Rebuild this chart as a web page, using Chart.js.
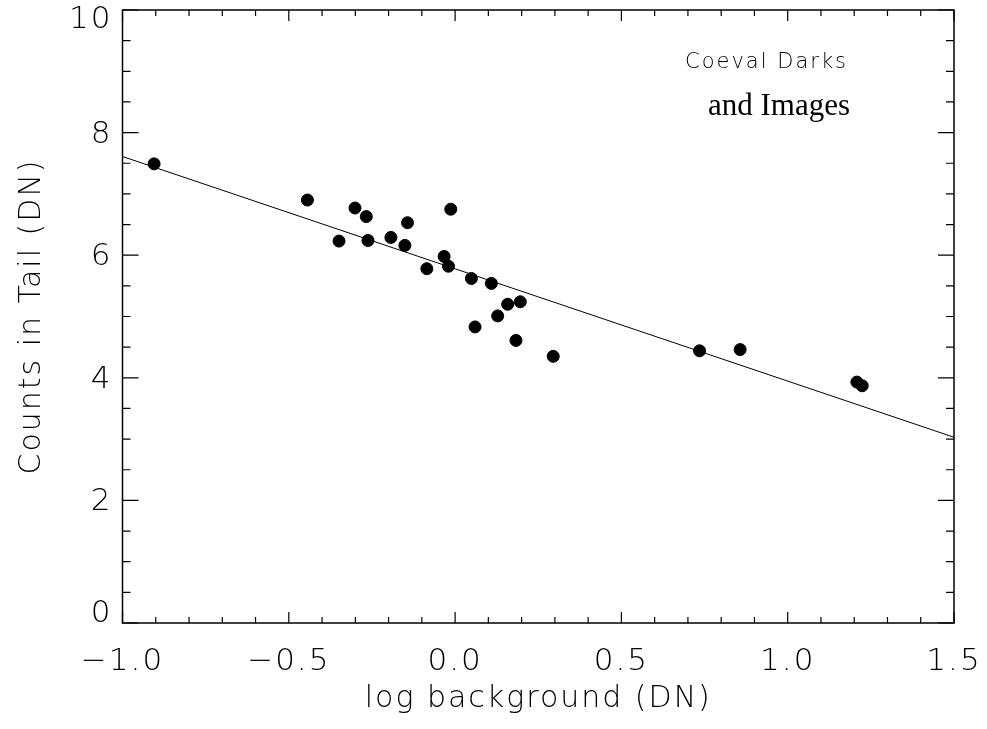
<!DOCTYPE html>
<html>
<head>
<meta charset="utf-8">
<script src="https://cdn.jsdelivr.net/npm/chart.js@4/dist/chart.umd.min.js"></script>
<style>
  html, body { margin: 0; padding: 0; background: #fff; }
  #wrap { width: 987px; height: 729px; }
</style>
</head>
<body>
<div id="wrap"><canvas id="tailchart"></canvas></div>
<script>
// log background (DN) vs counts in tail (DN)
const logBackground = [-0.905, -0.444, -0.301, -0.267, -0.143, -0.013, -0.349, -0.262, -0.193, -0.151,
                       -0.033, -0.020, -0.085, 0.049, 0.109, 0.196, 0.158, 0.128, 0.060, 0.183,
                       0.295, 0.735, 0.857, 1.208, 1.224];
const tailCounts = [7.49, 6.90, 6.77, 6.63, 6.53, 6.75, 6.23, 6.24, 6.29, 6.16,
                    5.98, 5.82, 5.78, 5.62, 5.54, 5.24, 5.20, 5.01, 4.83, 4.61,
                    4.35, 4.44, 4.46, 3.93, 3.87];
const fitX = [-1.0, 1.5];
const fitY = [7.61, 3.03];
const xTicks = [-1.0, -0.5, 0.0, 0.5, 1.0, 1.5];
const yTicks = [0, 2, 4, 6, 8, 10];
const labelTop = "Coeval Darks";
const labelBottom = "and Images";

const thinFont = "'DejaVu Sans', sans-serif";

// wide spacing to look more like the plotting font of the original
const spacingPlugin = {
  id: 'spacing',
  beforeDraw(chart) { chart.ctx.letterSpacing = '2px'; }
};

// inward ticks on all four sides, y labels, frame and the note text
const framePlugin = {
  id: 'frame',
  afterDraw(chart) {
    const ctx = chart.ctx;
    const a = chart.chartArea;
    const xs = chart.scales.x, ys = chart.scales.y;
    ctx.save();
    ctx.strokeStyle = '#000';
    ctx.lineWidth = 1.5;
    ctx.strokeRect(a.left, a.top, a.right - a.left, a.bottom - a.top);
    ctx.lineWidth = 1.2;
    ctx.beginPath();
    for (let i = -10; i <= 15; i++) {
      const px = xs.getPixelForValue(i / 10);
      const len = (i % 5 === 0) ? 11 : 6;
      ctx.moveTo(px, a.bottom); ctx.lineTo(px, a.bottom - len);
      ctx.moveTo(px, a.top); ctx.lineTo(px, a.top + len);
    }
    for (let j = 0; j <= 20; j++) {
      const py = ys.getPixelForValue(j / 2);
      const len = (j % 4 === 0) ? 16 : 8;
      ctx.moveTo(a.left, py); ctx.lineTo(a.left + len, py);
      ctx.moveTo(a.right, py); ctx.lineTo(a.right - len, py);
    }
    ctx.stroke();

    ctx.fillStyle = '#000';
    ctx.textBaseline = 'middle';
    ctx.textAlign = 'right';
    // y labels: end ones pushed inside the frame like the original
    ctx.letterSpacing = '2px';
    ctx.font = "200 31px " + thinFont;
    yTicks.forEach((v, k) => {
      let dy = 2;
      if (k === 0) dy = -9;
      if (k === yTicks.length - 1) dy = 10;
      ctx.fillText(String(v), a.left - 10, ys.getPixelForValue(v) + dy);
    });

    ctx.font = "200 21px " + thinFont;
    ctx.fillText(labelTop, 848, 63);
    ctx.letterSpacing = '0px';
    ctx.font = "31px 'Liberation Serif', 'Times New Roman', serif";
    ctx.fillText(labelBottom, 850, 107);
    ctx.restore();
  }
};

new Chart(document.getElementById('tailchart'), {
  type: 'scatter',
  data: {
    datasets: [
      {
        label: 'data',
        data: logBackground.map((x, i) => ({ x: x, y: tailCounts[i] })),
        backgroundColor: '#000',
        borderColor: '#000',
        pointRadius: 6,
        pointHoverRadius: 6,
        order: 1
      },
      {
        label: 'fit',
        type: 'line',
        data: fitX.map((x, i) => ({ x: x, y: fitY[i] })),
        borderColor: '#000',
        borderWidth: 1,
        pointRadius: 0,
        fill: false,
        order: 2
      }
    ]
  },
  options: {
    responsive: true,
    maintainAspectRatio: false,
    animation: false,
    layout: { padding: { top: 10, right: 33, left: 0, bottom: 0 } },
    plugins: { legend: { display: false }, tooltip: { enabled: false } },
    scales: {
      x: {
        type: 'linear',
        min: -1.0,
        max: 1.5,
        afterBuildTicks: s => { s.ticks = xTicks.map(v => ({ value: v })); },
        afterFit: s => { s.height = 106; s.paddingLeft = 0; s.paddingRight = 0; },
        grid: { display: false, drawTicks: false },
        border: { display: false },
        ticks: {
          padding: 20,
          color: '#000',
          maxRotation: 0,
          font: { family: thinFont, size: 31, weight: '200' },
          callback: v => v.toFixed(1).replace('-', '\u2212')
        },
        title: {
          display: true,
          text: 'log background (DN)',
          color: '#000',
          padding: { top: 0, bottom: 12 },
          font: { family: thinFont, size: 30, weight: '200' }
        }
      },
      y: {
        type: 'linear',
        min: 0,
        max: 10,
        afterBuildTicks: s => { s.ticks = yTicks.map(v => ({ value: v })); },
        afterFit: s => { s.width = 122.5; s.paddingTop = 0; s.paddingBottom = 0; },
        grid: { display: false, drawTicks: false },
        border: { display: false },
        ticks: { display: false },
        title: {
          display: true,
          text: 'Counts in Tail (DN)',
          color: '#000',
          padding: { top: 14, bottom: 0 },
          font: { family: thinFont, size: 30, weight: '200' }
        }
      }
    }
  },
  plugins: [spacingPlugin, framePlugin]
});
</script>
</body>
</html>
